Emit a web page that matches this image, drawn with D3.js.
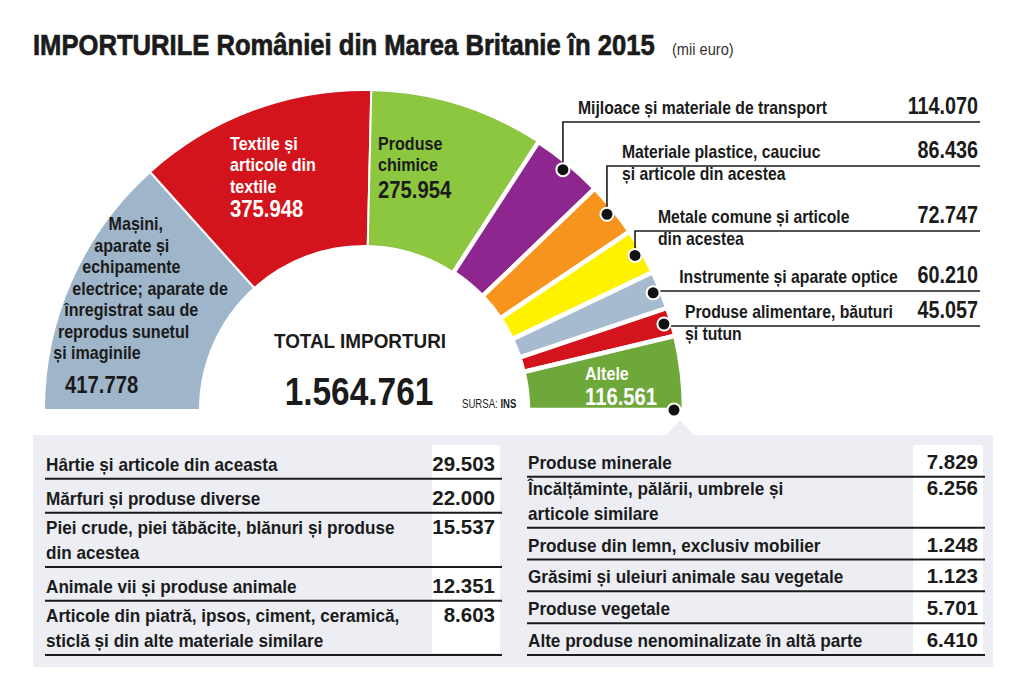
<!DOCTYPE html>
<html>
<head>
<meta charset="utf-8">
<script src="https://cdn.jsdelivr.net/npm/d3@7"></script>
<style>
  body { margin: 0; background: #fff; }
</style>
</head>
<body>
<div id="chart"></div>
<script>
// categories shown in the half donut (wrapped as printed)
const sliceLabels = [
    ["Mașini,", "aparate și", "echipamente", "electrice; aparate de", "înregistrat sau de", "reprodus sunetul", "și imaginile"],
    ["Textile și", "articole din", "textile"],
    ["Produse", "chimice"],
    ["Mijloace și materiale de transport"],
    ["Materiale plastice, cauciuc", "și articole din acestea"],
    ["Metale comune și articole", "din acestea"],
    ["Instrumente și aparate optice"],
    ["Produse alimentare, băuturi", "și tutun"],
    ["Altele"]
];
const sliceValues = [417778, 375948, 275954, 114070, 86436, 72747, 60210, 45057, 116561];
const sliceColors = ["#9fb5ca", "#d4141c", "#8dc63f", "#8e2690", "#f7941d", "#fff200", "#a6bbd0", "#d4141c", "#6ea83a"];

// the "Altele" breakdown, two columns
const leftTableLabels = [
    ["Hârtie și articole din aceasta"],
    ["Mărfuri și produse diverse"],
    ["Piei crude, piei tăbăcite, blănuri și produse", "din acestea"],
    ["Animale vii și produse animale"],
    ["Articole din piatră, ipsos, ciment, ceramică,", "sticlă și din alte materiale similare"]
];
const leftTableValues = [29503, 22000, 15537, 12351, 8603];
const rightTableLabels = [
    ["Produse minerale"],
    ["Încălțăminte, pălării, umbrele și", "articole similare"],
    ["Produse din lemn, exclusiv mobilier"],
    ["Grăsimi și uleiuri animale sau vegetale"],
    ["Produse vegetale"],
    ["Alte produse nenominalizate în altă parte"]
];
const rightTableValues = [7829, 6256, 1248, 1123, 5701, 6410];

const FONT = "'Liberation Sans',Arial,sans-serif";
const INK = "#1b1b1b";

const width = 1030, height = 700;
const cx = 364, cy = 410, outerR = 320, innerR = 164;

const fmt = d3.formatLocale({decimal: ",", thousands: ".", grouping: [3], currency: ["", ""]}).format(",d");

let svg = d3.select("#chart")
    .append("svg")
    .attr("width", width)
    .attr("height", height)
    .attr("font-family", FONT)
    .attr("font-weight", "bold")
    .attr("fill", INK);

// condensed text: the print font is narrow, so squeeze horizontally
function label(x, y, lines, opts) {
    opts = opts || {};
    let step = opts.step || 21.5;
    let t = svg.append("text")
        .attr("transform", "translate(" + x + "," + y + ") scale(" + (opts.sx || 0.92) + ",1)")
        .attr("font-size", opts.size || 17.5)
        .attr("text-anchor", opts.anchor || "start")
        .attr("fill", opts.fill || INK);
    if (opts.weight) t.attr("font-weight", opts.weight);
    lines.forEach(function (line, j) {
        t.append("tspan").attr("x", 0).attr("y", j * step).text(line);
    });
    return t;
}

// title, squeezed to the printed width
let title = label(33, 55, ["IMPORTURILE României din Marea Britanie în 2015"], {size: 29, sx: 1})
    .attr("stroke", INK)
    .attr("stroke-width", 0.7);
let titleW = title.node().getComputedTextLength();
title.attr("transform", "translate(33,55) scale(" + (622 / titleW) + ",1)");
label(672, 55, ["(mii euro)"], {size: 17, sx: 0.86, weight: "normal", fill: "#333"});

// table background with little notch under "Altele"
svg.append("rect")
    .attr("x", 33).attr("y", 435)
    .attr("width", 960).attr("height", 232)
    .attr("fill", "#eceef4");
svg.append("path")
    .attr("d", "M666,435 L680,420 L694,435 Z")
    .attr("fill", "#eceef4");

function drawTable(labels, values, lineX0, lineX1, cellX0, cellX1) {
    let top = 445, bottom = 655;
    let weights = labels.map(l => l.length > 1 ? 1.6 : 1);
    let cum = [0];
    weights.forEach(w => cum.push(cum[cum.length - 1] + w));
    let y = d3.scaleLinear().domain([0, d3.sum(weights)]).range([top, bottom]);

    svg.append("rect")
        .attr("x", cellX0).attr("y", top)
        .attr("width", cellX1 - cellX0).attr("height", bottom - top - 2)
        .attr("fill", "#fff");

    labels.forEach(function (lines, i) {
        let rowBottom = y(cum[i + 1]);
        let base = rowBottom - 8 - (lines.length - 1) * 25;
        label(lineX0 + 1, base, lines, {size: 17.5, sx: 0.98, step: 25});
        label(cellX1 - 5, base, [fmt(values[i])], {size: 20.5, sx: 1, anchor: "end"});
        svg.append("line")
            .attr("x1", lineX0).attr("x2", lineX1)
            .attr("y1", rowBottom).attr("y2", rowBottom)
            .attr("stroke", INK)
            .attr("stroke-width", 2);
    });
}

drawTable(leftTableLabels, leftTableValues, 45, 502, 432, 500);
drawTable(rightTableLabels, rightTableValues, 527, 985, 913, 983);

// half donut
let g = svg.append("g")
    .attr("transform", "translate(" + cx + "," + cy + ")");

let pie = d3.pie()
    .sort(null)
    .startAngle(-Math.PI / 2)
    .endAngle(Math.PI / 2)
    .value(d => d);

let arcs = pie(sliceValues);

let arc = d3.arc()
    .innerRadius(innerR)
    .outerRadius(outerR);

g.selectAll("path.slice")
    .data(arcs)
    .join("path")
    .attr("class", "slice")
    .attr("d", arc)
    .attr("fill", (d, i) => sliceColors[i])
    .attr("stroke", "#fff")
    .attr("stroke-width", (d, i) => i < 3 ? 2 : 4.5);

// label inside "Masini": each line starts just inside the outer arc
sliceLabels[0].forEach(function (line, j) {
    let by = 230 + j * 21.5;
    let dy = cy - (by - 6);
    label(cx - Math.sqrt(316 * 316 - dy * dy), by, [line]);
});
label(65, 393, [fmt(sliceValues[0])], {size: 23, sx: 0.88});

function innerLabel(i, x, y0, valueY, color) {
    label(x, y0, sliceLabels[i], {fill: color});
    label(x, valueY, [fmt(sliceValues[i])], {size: 23, sx: 0.88, fill: color});
}

innerLabel(1, 230, 150, 217, "#fff");
innerLabel(2, 378, 150, 198, INK);
innerLabel(8, 585, 380, 405, "#fff");

// total in the middle
label(360, 348, ["TOTAL IMPORTURI"], {size: 21, sx: 0.9, anchor: "middle"});
label(359, 405, [fmt(d3.sum(sliceValues))], {size: 38, sx: 0.88, anchor: "middle"});
let src = label(462, 408, [""], {size: 12, sx: 0.8});
src.select("tspan").remove();
src.append("tspan").attr("font-weight", "normal").text("SURSA: ");
src.append("tspan").text("INS");

// callouts on the right
const calloutLineY = [122, 166, 231, 291, 326];
const calloutLabelDx = [15, 15, 23, 26, 21];
const calloutEndX = 980;

function pointAt(a, r) {
    return [cx + r * Math.sin(a), cy - r * Math.cos(a)];
}

let dots = [];
[3, 4, 5, 6, 7].forEach(function (i, k) {
    let a = (arcs[i].startAngle + arcs[i].endAngle) / 2;
    let p = pointAt(a, 312);
    let ly = calloutLineY[k];
    svg.append("path")
        .attr("d", "M" + p[0] + "," + p[1] + " L" + p[0] + "," + ly + " L" + calloutEndX + "," + ly)
        .attr("fill", "none")
        .attr("stroke", INK)
        .attr("stroke-width", 1.6);
    label(p[0] + calloutLabelDx[k], ly - 8, sliceLabels[i], {size: 17.5, sx: 0.9, step: 22});
    label(calloutEndX - 2, ly - 8, [fmt(sliceValues[i])], {size: 23, sx: 0.86, anchor: "end"});
    dots.push(p);
});
dots.push(pointAt(arcs[8].endAngle, 310));

svg.selectAll("circle.dot")
    .data(dots)
    .join("circle")
    .attr("class", "dot")
    .attr("cx", d => d[0])
    .attr("cy", d => d[1])
    .attr("r", 6.5)
    .attr("fill", "#111")
    .attr("stroke", "#fff")
    .attr("stroke-width", 2);
</script>
</body>
</html>
